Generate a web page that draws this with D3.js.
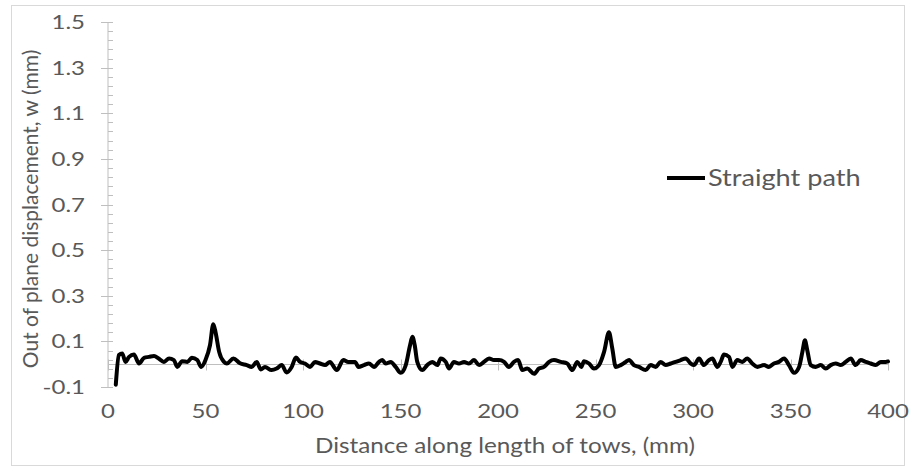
<!DOCTYPE html>
<html><head><meta charset="utf-8">
<script src="https://cdn.jsdelivr.net/npm/d3@7"></script>
<style>body{margin:0;background:#fff}svg{display:block}text{font-family:Lato,"Open Sans",sans-serif}</style>
</head><body><svg id="c" width="909" height="471"></svg>
<script>
const distance = [4,5.6,7.3,9,10.8,13.3,15.9,18.5,21,23.6,26,28.7,31.3,33.8,35.5,38,40.7,43,45.8,47.8,50,52.3,54,55.2,57,59.5,
61,64.3,67.7,71.1,73.7,76.3,78.3,80.5,83.9,86.5,89.1,91.6,94.2,96.4,98.5,101,103.6,106.2,108.7,111.3,113.8,117.3,120.7,123.2,126.7,128.4,
131.3,133.8,136.4,139,140.7,142.4,145,147.5,150.1,152.7,154.9,156.1,157.3,158.6,161.2,163.7,166.3,168.9,170.6,173.2,174.9,177.4,180,182.6,185.1,187.7,190.3,192.8,195.4,197.9,
200.5,203.1,205.6,208.2,210.3,212.5,215,218.5,221,223.6,226.2,228.7,232.2,235.5,238.1,240.7,242.7,244.1,246.7,249.2,251.8,254.4,256.9,258.6,260.4,262.9,265.5,
267.2,269.7,272.3,275.7,278.3,280.9,283.4,286,288.6,291.1,293.7,296.3,298.8,300.5,303.1,305.6,308.2,309.9,312.5,314.2,315.9,318.5,320.2,322.7,325.3,327.8,330.4,333,
336.4,338.9,341.5,344.1,346.7,349.2,351.8,354.4,356.1,357.4,358.6,360.4,362.9,365.5,368.1,370.6,373.2,375.8,378.3,380.9,383.4,386,388.6,391.1,393.7,396.3,398.8,400];
const displacement = [-0.09,0.04,0.047,0.01,0.032,0.042,0.003,0.028,0.032,0.036,0.025,0.01,0.025,0.018,-0.012,0.013,0.01,0.028,0.018,-0.012,0.018,0.083,0.175,0.138,0.054,0.01,
0.003,0.025,0.004,-0.004,-0.012,0.01,-0.023,-0.012,-0.026,-0.019,-0.004,-0.036,-0.012,0.029,0.01,0.003,-0.012,0.01,0.003,-0.004,0.01,-0.026,0.018,0.01,0.01,-0.012,
-0.004,0.003,-0.012,0.01,0.018,0.003,0.01,-0.012,-0.038,-0.004,0.083,0.12,0.083,0.01,-0.026,-0.004,0.01,-0.004,0.025,0.01,-0.019,0.01,0.003,0.01,0.003,0.018,-0.004,0.01,0.025,0.018,
0.018,0.01,-0.012,0.01,0.018,-0.026,-0.019,-0.042,-0.019,-0.012,0.01,0.018,0.01,0.003,-0.026,0.01,-0.012,0.013,0.003,-0.019,-0.004,0.054,0.14,0.069,-0.012,-0.004,0.01,
0.018,-0.004,-0.012,-0.026,-0.004,-0.012,0.01,-0.004,0.003,0.01,0.018,0.025,0.003,-0.004,0.025,-0.004,0.018,0.025,-0.012,0.01,0.042,0.032,-0.012,0.018,0.01,0.025,0.003,-0.012,
-0.004,-0.012,0.003,0.01,0.025,-0.004,-0.038,-0.012,0.054,0.105,0.061,-0.004,-0.012,-0.004,-0.019,-0.004,0.003,-0.004,0.01,0.025,-0.004,0.018,0.01,0.003,-0.004,0.01,0.01,0.012];
const xTicks = [0,50,100,150,200,250,300,350,400];
const yTicks = [-0.1,0.1,0.3,0.5,0.7,0.9,1.1,1.3,1.5];
const seriesName = "Straight path";
const xTitle = "Distance along length of tows, (mm)";
const yTitle = "Out of plane displacement, w (mm)";

const svg = d3.select("#c");
svg.append("rect").attr("x",11.5).attr("y",5.5).attr("width",893).attr("height",460)
  .attr("fill","#fff").attr("stroke","#d9d9d9");
const x = d3.scaleLinear().domain([0,400]).range([108,888]);
const y = d3.scaleLinear().domain([-0.1,1.5]).range([387,22]);
const labCol = "#595959", axCol = "#bfbfbf";

// y axis line and ticks
svg.append("line").attr("x1",x(0)).attr("x2",x(0)).attr("y1",y(1.5)).attr("y2",y(-0.1)).attr("stroke",axCol);
const minor = d3.range(-0.1,1.5001,0.04);
svg.selectAll(".ymin").data(minor).join("line").attr("x1",x(0)).attr("x2",x(0)+5)
  .attr("y1",d=>Math.round(y(d))+0.5).attr("y2",d=>Math.round(y(d))+0.5).attr("stroke",axCol);
svg.selectAll(".ymaj").data(yTicks).join("line").attr("x1",x(0)-7).attr("x2",x(0)+5)
  .attr("y1",d=>Math.round(y(d))+0.5).attr("y2",d=>Math.round(y(d))+0.5).attr("stroke",axCol);
svg.selectAll(".ylab").data(yTicks).join("text")
  .attr("transform",d=>`translate(85,${y(d)}) scale(1.2,1)`).attr("dy","0.35em")
  .attr("text-anchor","end").attr("fill",labCol).attr("font-size",20).text(d=>d.toFixed(1));

// x axis at y=0
const y0 = Math.round(y(0))+0.5;
svg.append("line").attr("x1",x(0)).attr("x2",x(400)).attr("y1",y0).attr("y2",y0).attr("stroke",axCol);
svg.selectAll(".xt").data(xTicks).join("line").attr("x1",d=>Math.round(x(d))+0.5).attr("x2",d=>Math.round(x(d))+0.5)
  .attr("y1",y0-5).attr("y2",y0+6).attr("stroke",axCol);
svg.selectAll(".xlab").data(xTicks).join("text")
  .attr("transform",d=>`translate(${x(d)},411) scale(1.2,1)`).attr("dy","0.35em")
  .attr("text-anchor","middle").attr("fill",labCol).attr("font-size",20).text(d=>d);

// series
const pts = distance.map((d,i)=>[d,displacement[i]]);
svg.append("path").datum(pts).attr("fill","none").attr("stroke","#000").attr("stroke-width",4)
  .attr("stroke-linejoin","round").attr("stroke-linecap","round")
  .attr("d",d3.line().x(d=>x(d[0])).y(d=>y(d[1])).curve(d3.curveMonotoneX));

// titles
svg.append("text").attr("transform","translate(505,445) scale(1.13,1)").attr("dy","0.35em").attr("text-anchor","middle")
  .attr("fill",labCol).attr("font-size",21.5).text(xTitle);
svg.append("text").attr("transform","translate(31,209) rotate(-90)").attr("dy","0.35em").attr("text-anchor","middle")
  .attr("fill",labCol).attr("font-size",21).text(yTitle);

// legend
svg.append("line").attr("x1",667).attr("x2",705).attr("y1",178).attr("y2",178).attr("stroke","#000").attr("stroke-width",4);
svg.append("text").attr("transform","translate(708,178) scale(1.18,1)").attr("dy","0.35em").attr("fill",labCol).attr("font-size",23).text(seriesName);
</script></body></html>
